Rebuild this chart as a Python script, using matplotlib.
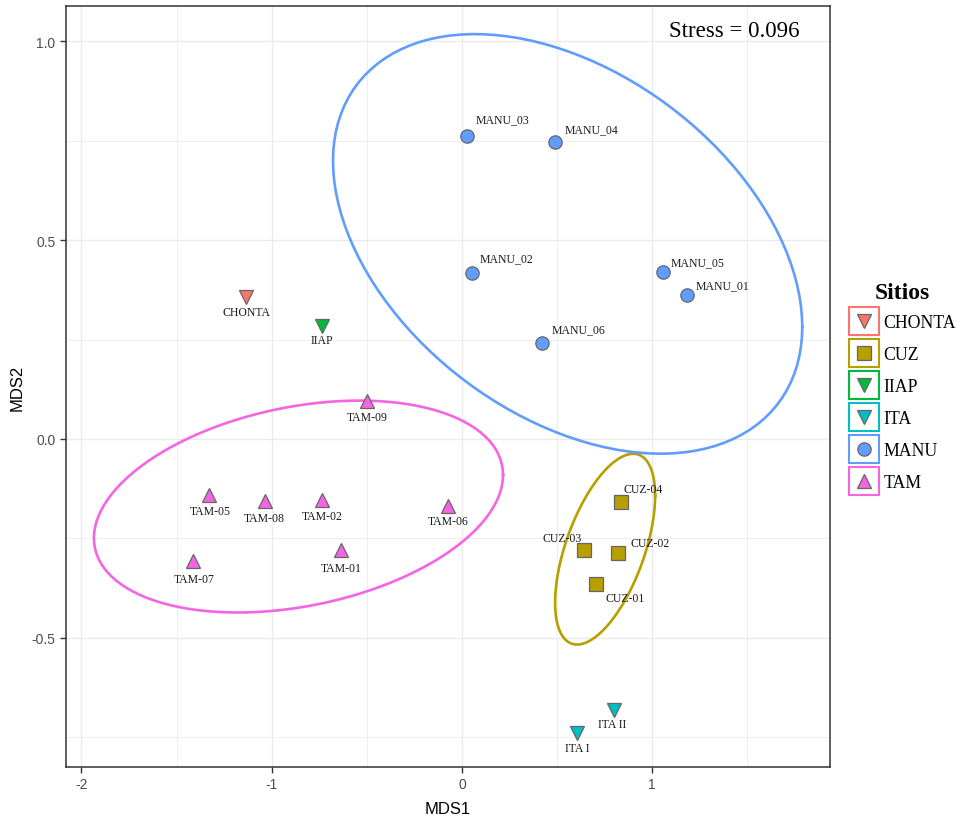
import numpy as np
import matplotlib
matplotlib.use("Agg")
import matplotlib.pyplot as plt
from matplotlib.lines import Line2D
from matplotlib.patches import Rectangle
from matplotlib.legend_handler import HandlerBase
from matplotlib.ticker import MultipleLocator

plt.rcParams["axes.unicode_minus"] = False

# NMDS site scores
sites = ["MANU_01", "MANU_02", "MANU_03", "MANU_04", "MANU_05", "MANU_06",
         "CHONTA", "IIAP",
         "TAM-01", "TAM-02", "TAM-05", "TAM-06", "TAM-07", "TAM-08", "TAM-09",
         "CUZ-01", "CUZ-02", "CUZ-03", "CUZ-04",
         "ITA I", "ITA II"]
groups = ["MANU"] * 6 + ["CHONTA", "IIAP"] + ["TAM"] * 7 + ["CUZ"] * 4 + ["ITA"] * 2
mds1 = [1.182, 0.054, 0.028, 0.489, 1.056, 0.419,
        -1.135, -0.734,
        -0.636, -0.736, -1.328, -0.074, -1.412, -1.034, -0.498,
        0.704, 0.821, 0.641, 0.836,
        0.606, 0.799]
mds2 = [0.361, 0.418, 0.763, 0.746, 0.421, 0.242,
        0.356, 0.285,
        -0.279, -0.153, -0.141, -0.168, -0.306, -0.155, 0.096,
        -0.364, -0.288, -0.279, -0.159,
        -0.740, -0.681]
stress = 0.096

group_names = ["CHONTA", "CUZ", "IIAP", "ITA", "MANU", "TAM"]
group_colors = ["#F8766D", "#B79F00", "#00BA38", "#00BFC4", "#619CFF", "#F564E3"]
group_markers = ["v", "s", "v", "v", "o", "^"]
marker_sizes = {"v": 10.5, "s": 9.5, "o": 9.6, "^": 10.5}

# label nudges in pixels (x right, y down)
label_nudge = {
    "MANU_01": (36, -10), "MANU_02": (34, -15), "MANU_03": (35, -16),
    "MANU_04": (36, -13), "MANU_05": (35, -9), "MANU_06": (37, -14),
    "CHONTA": (0, 15), "IIAP": (0, 14),
    "TAM-01": (0, 18), "TAM-02": (0, 16), "TAM-05": (1, 16), "TAM-06": (0, 15),
    "TAM-07": (1, 18), "TAM-08": (-1, 17), "TAM-09": (0, 16),
    "CUZ-01": (29, 14), "CUZ-02": (32, -10), "CUZ-03": (-22, -12),
    "CUZ-04": (22, -13),
    "ITA I": (0, 15), "ITA II": (-2, 14),
}

SERIF = ["Liberation Serif", "DejaVu Serif"]
SANS = ["Liberation Sans", "DejaVu Sans"]


def cov_trob(pts, nu=5, maxit=25, tol=0.01):
    # multivariate t estimate of location and scatter (as MASS::cov.trob)
    n, p = pts.shape
    loc = pts.mean(axis=0)
    w = np.ones(n)
    for _ in range(maxit):
        w0 = w
        X = pts - loc
        _, d, vt = np.linalg.svd(np.sqrt(w / w.sum())[:, None] * X,
                                 full_matrices=False)
        wX = X @ vt.T / d
        Q = (wX ** 2).sum(axis=1)
        w = (nu + p) / (nu + Q)
        loc = (w[:, None] * pts).sum(axis=0) / w.sum()
        if np.all(np.abs(w - w0) < tol):
            break
    sX = np.sqrt(w)[:, None] * X
    return loc, sX.T @ sX / n


def ellipse_path(pts, level=0.9, segments=120):
    n = len(pts)
    center, shape = cov_trob(pts)
    dfd = n - 1
    qf = dfd / 2 * ((1 - level) ** (-2 / dfd) - 1)   # F quantile for dfn = 2
    radius = np.sqrt(2 * qf)
    ang = np.linspace(0, 2 * np.pi, segments + 1)
    circle = np.column_stack([np.cos(ang), np.sin(ang)])
    L = np.linalg.cholesky(shape)
    return center + radius * circle @ L.T


class BoxedKey(HandlerBase):
    # legend key: coloured outline box with the point symbol in its centre
    def create_artists(self, legend, orig_handle, xdescent, ydescent,
                       width, height, fontsize, trans):
        box = Rectangle((-xdescent, -ydescent), width, height,
                        facecolor="white", edgecolor=orig_handle.get_color(),
                        lw=1.5, transform=trans)
        pt = Line2D([width / 2 - xdescent], [height / 2 - ydescent], ls="none",
                    marker=orig_handle.get_marker(),
                    ms=orig_handle.get_markersize(),
                    mfc=orig_handle.get_markerfacecolor(),
                    mec=orig_handle.get_markeredgecolor(),
                    mew=orig_handle.get_markeredgewidth(), transform=trans)
        return [box, pt]


fig = plt.figure(figsize=(9.63, 8.2), dpi=100)
ax = fig.add_axes([66 / 963, 1 - 768 / 820, 764 / 963, 761 / 820])

x = np.array(mds1)
y = np.array(mds2)
g = np.array(groups)

ax.set_xlim(-2.081, 1.934)
ax.set_ylim(-0.825, 1.089)
ax.xaxis.set_minor_locator(MultipleLocator(0.5))
ax.yaxis.set_minor_locator(MultipleLocator(0.25))
ax.set_xticks([-2, -1, 0, 1])
ax.set_xticklabels(["-2", "-1", "0", "1"])
ax.set_yticks([-0.5, 0.0, 0.5, 1.0])
ax.set_yticklabels(["-0.5", "0.0", "0.5", "1.0"])
ax.grid(which="major", color="#EBEBEB", lw=1.0)
ax.grid(which="minor", color="#EBEBEB", lw=0.6)
ax.set_axisbelow(True)
ax.tick_params(which="major", length=4, width=1.0, color="#333333",
               labelcolor="#4D4D4D", labelsize=10)
ax.tick_params(which="minor", length=0)
for lab in ax.get_xticklabels() + ax.get_yticklabels():
    lab.set_fontfamily(SANS)
for s in ax.spines.values():
    s.set_color("#333333")
    s.set_linewidth(1.1)

# t-based 90% ellipses for groups with enough sites
for name, col in zip(group_names, group_colors):
    sel = g == name
    if sel.sum() >= 3:
        e = ellipse_path(np.column_stack([x[sel], y[sel]]))
        ax.plot(e[:, 0], e[:, 1], color=col, lw=1.9, zorder=2)

handles = []
for name, col, mk in zip(group_names, group_colors, group_markers):
    sel = g == name
    ax.plot(x[sel], y[sel], ls="none", marker=mk, ms=marker_sizes[mk],
            mfc=col, mec="#666666", mew=0.9, zorder=3)
    handles.append(Line2D([], [], color=col, ls="none", marker=mk,
                          ms=marker_sizes[mk], mfc=col, mec="#666666", mew=0.9))

for s, xi, yi in zip(sites, mds1, mds2):
    dx, dy = label_nudge[s]
    ax.annotate(s, (xi, yi), xytext=(dx, -dy), textcoords="offset pixels",
                ha="center", va="center", fontsize=8.5, family=SERIF,
                color="#1A1A1A", zorder=4)

ax.text(1.43, 1.027, f"Stress = {stress}", ha="center", va="center",
        fontsize=16.5, family=SERIF, color="black")

ax.set_xlabel("MDS1", fontsize=12, family=SANS, labelpad=7)
ax.set_ylabel("MDS2", fontsize=12, family=SANS, labelpad=5)

leg = fig.legend(handles, group_names, handler_map={Line2D: BoxedKey()},
                 loc="upper left", bbox_to_anchor=(849 / 963, 1 - 283 / 820),
                 frameon=False, title="Sitios", handlelength=1.67,
                 handleheight=2.02, labelspacing=0.24, handletextpad=0.25,
                 borderaxespad=0, borderpad=0,
                 prop={"family": SERIF, "size": 12.8},
                 title_fontproperties={"family": SERIF, "size": 17, "weight": "bold"})

fig.savefig("out.png", dpi=100)
